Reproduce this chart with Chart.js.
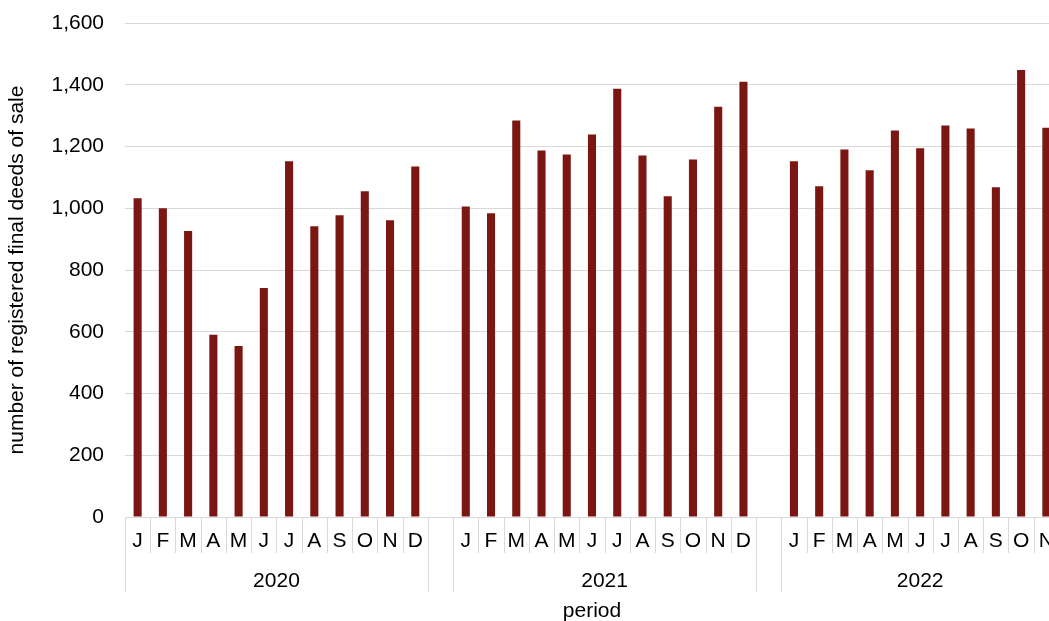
<!DOCTYPE html>
<html>
<head>
<meta charset="utf-8">
<title>Registered final deeds of sale</title>
<script src="https://cdn.jsdelivr.net/npm/chart.js@4/dist/chart.umd.min.js"></script>
<style>
    html, body { margin: 0; padding: 0; background: #fff; overflow: hidden; }
    /* plot runs past the right edge of the window, like the cropped original */
    .chart-wrap { position: relative; width: 1066px; height: 621px; }
</style>
</head>
<body>
<div class="chart-wrap"><canvas id="deedsChart"></canvas></div>
<script>
// --- data ---
const years = ['2020', '2021', '2022'];
const monthLetters = ['J', 'F', 'M', 'A', 'M', 'J', 'J', 'A', 'S', 'O', 'N', 'D'];
const deeds2020 = [1032, 1000, 926, 590, 554, 742, 1152, 942, 977, 1055, 961, 1135];
const deeds2021 = [1006, 984, 1284, 1187, 1174, 1239, 1387, 1171, 1039, 1158, 1329, 1410];
const deeds2022 = [1152, 1071, 1190, 1123, 1252, 1194, 1268, 1258, 1068, 1448, 1261];
const yTicks = [0, 200, 400, 600, 800, 1000, 1200, 1400, 1600];

const FONT = '"Liberation Sans", Arial, sans-serif';

// one empty category between the years
const labels = [...monthLetters, '', ...monthLetters, '', ...monthLetters.slice(0, deeds2022.length)];
const values = [...deeds2020, null, ...deeds2021, null, ...deeds2022];

// centre of each year group (category index units)
const yearCenters = [];
let start = 0;
[deeds2020, deeds2021, deeds2022].forEach(arr => {
    yearCenters.push(start + (arr.length - 1) / 2);
    start += arr.length + 1;
});

// second axis level: separators + year labels, placed with the x scale
const yearAxis = {
    id: 'yearAxis',
    afterDraw(chart, args, opts) {
        const ctx = chart.ctx;
        const x = chart.scales.x;
        const base = chart.chartArea.bottom;
        ctx.save();
        ctx.strokeStyle = opts.color;
        ctx.lineWidth = 1;
        for (let i = -1; i < labels.length; i++) {
            const isYear = i < 0 || i + 1 >= labels.length || labels[i] === '' || labels[i + 1] === '';
            const px = Math.round(x.getPixelForValue(i + 0.5)) + 0.5;
            ctx.beginPath();
            ctx.moveTo(px, base);
            ctx.lineTo(px, base + (isYear ? opts.yearLength : opts.monthLength));
            ctx.stroke();
        }
        ctx.fillStyle = '#000';
        ctx.font = '21px ' + FONT;
        ctx.textAlign = 'center';
        ctx.textBaseline = 'middle';
        years.forEach((yr, i) => {
            ctx.fillText(yr, x.getPixelForValue(yearCenters[i]), base + opts.labelOffset);
        });
        ctx.restore();
    }
};

Chart.defaults.font.family = FONT;
Chart.defaults.font.size = 21;
Chart.defaults.color = '#000';

new Chart(document.getElementById('deedsChart'), {
    type: 'bar',
    data: {
        labels: labels,
        datasets: [{
            data: values,
            backgroundColor: '#7b1712',
            categoryPercentage: 1,
            barPercentage: 0.32
        }]
    },
    options: {
        responsive: true,
        maintainAspectRatio: false,
        animation: false,
        layout: { padding: { top: 23, right: 4, bottom: 0, left: 0 } },
        plugins: {
            legend: { display: false },
            tooltip: { enabled: false },
            yearAxis: { color: '#d9d9d9', monthLength: 36, yearLength: 75, labelOffset: 64 }
        },
        scales: {
            y: {
                min: 0,
                max: 1600,
                afterBuildTicks: s => { s.ticks = yTicks.map(v => ({ value: v })); },
                afterFit: s => {
                    s.width = 125;
                    // keep the tick padding from pushing the plot top down
                    s.paddingTop = 0;
                    s.paddingBottom = 0;
                },
                ticks: {
                    padding: 21,
                    callback: v => v.toLocaleString('en-US')
                },
                grid: { color: '#d9d9d9', drawTicks: false },
                border: { display: false },
                title: {
                    display: true,
                    text: 'number of registered final deeds of sale',
                    padding: { top: 5, bottom: 0 }
                }
            },
            x: {
                afterFit: s => { s.height = 104; },
                ticks: { autoSkip: false, maxRotation: 0, padding: 12 },
                grid: { display: false, drawTicks: false },
                border: { display: false },
                title: {
                    display: true,
                    text: 'period',
                    padding: { top: 0, bottom: -3 }
                }
            }
        }
    },
    plugins: [yearAxis]
});
</script>
</body>
</html>
